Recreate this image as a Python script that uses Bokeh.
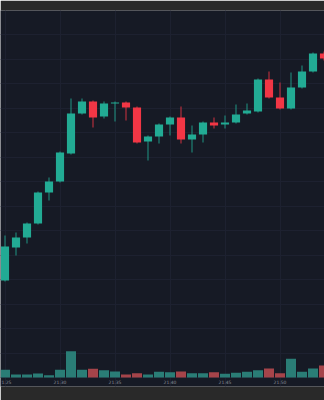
from bokeh.plotting import figure
from bokeh.models import Range1d, FixedTicker, SingleIntervalTicker, ColumnDataSource
from bokeh.core.properties import value
from bokeh.embed import file_html
from bokeh.resources import INLINE

times = ["21:25", "21:26", "21:27", "21:28", "21:29", "21:30", "21:31", "21:32", "21:33", "21:34",
         "21:35", "21:36", "21:37", "21:38", "21:39", "21:40", "21:41", "21:42", "21:43", "21:44",
         "21:45", "21:46", "21:47", "21:48", "21:49", "21:50", "21:51", "21:52", "21:53", "21:54"]
opens = [97, 130, 140, 154, 185, 196, 224, 264, 276, 261,
         274, 275, 270, 236, 241, 253, 260, 238, 243, 255,
         253, 255, 264, 266, 298, 280, 269, 290, 306, 324]
closes = [131, 140, 154, 185, 196, 225, 264, 276, 260, 274,
          275, 270, 235, 241, 253, 260, 238, 243, 255, 252,
          255, 263, 267, 298, 280, 269, 290, 306, 324, 319]
highs = [142, 145, 155, 186, 200, 226, 279, 279, 277, 276,
         276, 276, 271, 242, 254, 261, 271, 252, 256, 260,
         262, 273, 274, 299, 306, 295, 305, 312, 325, 326]
lows = [96, 122, 134, 153, 177, 195, 223, 263, 250, 259,
        256, 257, 234, 217, 234, 242, 234, 225, 235, 249,
        249, 254, 263, 265, 279, 268, 268, 289, 305, 317]
volumes = [770, 300, 300, 400, 230, 770, 2630, 770, 870, 730,
           600, 300, 430, 300, 570, 530, 600, 430, 430, 530,
           370, 470, 570, 730, 900, 430, 1870, 570, 900, 1200]

UP = "#22ab94"
DOWN = "#f23645"
UP_VOL = "#2a7d76"
DOWN_VOL = "#a5444a"
BG = "#161a25"
GRID = "#1d2130"
STRIP = "#292929"

n = len(times)
xs = list(range(n))
up = [c >= o for o, c in zip(opens, closes)]
src = ColumnDataSource(dict(
    x=xs,
    top=[max(o, c) for o, c in zip(opens, closes)],
    bottom=[min(o, c) if abs(c - o) >= 1 else max(o, c) - 1 for o, c in zip(opens, closes)],
    high=highs,
    low=lows,
    vol=volumes,
    color=[UP if u else DOWN for u in up],
    vcolor=[UP_VOL if u else DOWN_VOL for u in up],
))

tick_idx = list(range(0, n, 5))
lab_src = ColumnDataSource(dict(x=tick_idx, y=[-4.6] * len(tick_idx), t=[times[i] for i in tick_idx]))

p = figure(width=324, height=400, output_backend="svg", toolbar_location=None,
           x_range=Range1d(-4.5 / 11, (324 - 4.5) / 11), y_range=Range1d(-9, 367),
           min_border_left=0, min_border_right=0, min_border_top=10, min_border_bottom=14,
           x_axis_location=None, y_axis_location=None)
p.extra_y_ranges = {"vol": Range1d(-900, 36700)}
p.background_fill_color = BG
p.border_fill_color = STRIP
p.outline_line_color = None

p.xgrid.ticker = FixedTicker(ticks=tick_idx)
p.ygrid.ticker = SingleIntervalTicker(interval=24.5, num_minor_ticks=0)
p.xgrid.grid_line_color = GRID
p.ygrid.grid_line_color = GRID

p.vbar(x="x", top="vol", bottom=0, width=0.91, fill_color="vcolor", line_color=None,
       y_range_name="vol", source=src)
p.segment(x0="x", y0="high", x1="x", y1="low", line_color="color", line_width=1, line_alpha=0.85,
          source=src)
p.vbar(x="x", top="top", bottom="bottom", width=0.74, fill_color="color", line_color=None, source=src)

p.text(x="x", y="y", text="t", source=lab_src, text_font=value("DejaVu Sans"),
       text_font_size="4.5px", text_color="#8b8e96", text_align="center", text_baseline="middle")

open("out.html", "w").write(file_html(p, INLINE))
